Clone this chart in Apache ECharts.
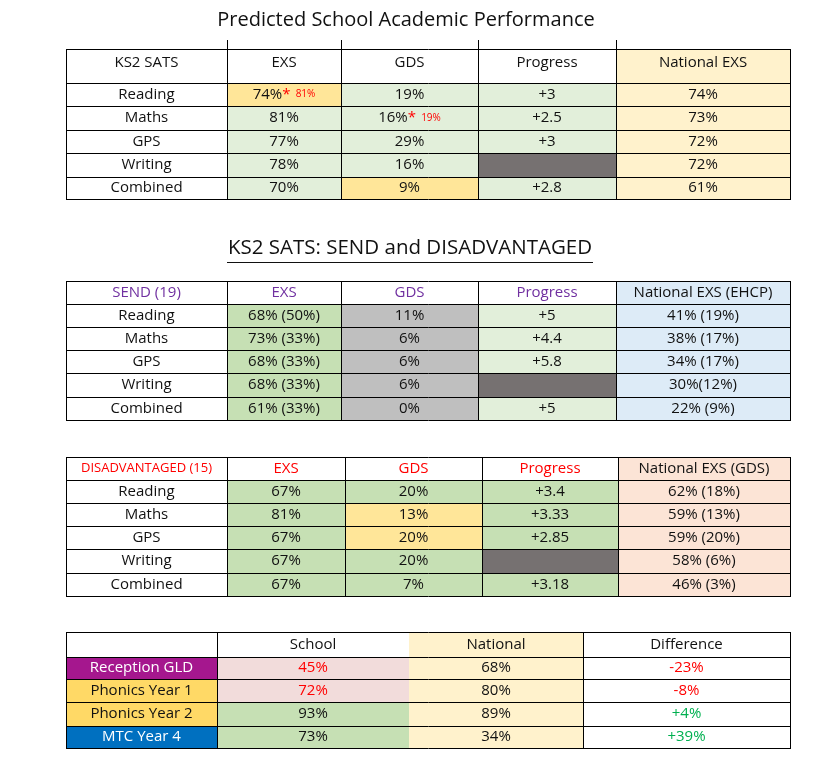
<!DOCTYPE html>
<html>
<head>
<meta charset="utf-8">
<script src="https://cdn.jsdelivr.net/npm/echarts@6/dist/echarts.min.js"></script>
<style>
  html, body { margin: 0; padding: 0; background: #fff; }
  #main { width: 827px; height: 768px; }
</style>
</head>
<body>
<div id="main"></div>
<script>
// ---- data read from the sheet ----
const subjects = ['Reading', 'Maths', 'GPS', 'Writing', 'Combined'];

// KS2 SATS (whole cohort)
const ks2Headers = ['KS2 SATS', 'EXS', 'GDS', 'Progress', 'National EXS'];
const ks2Exs = [74, 81, 77, 78, 70];
const ks2ExsRevised = [81, null, null, null, null];
const ks2Gds = [19, 16, 29, 16, 9];
const ks2GdsRevised = [null, 19, null, null, null];
const ks2Progress = [3, 2.5, 3, null, 2.8];
const ks2National = [74, 73, 72, 72, 61];

// SEND
const sendHeaders = ['SEND (19)', 'EXS', 'GDS', 'Progress', 'National EXS (EHCP)'];
const sendExs = ['68% (50%)', '73% (33%)', '68% (33%)', '68% (33%)', '61% (33%)'];
const sendGds = [11, 6, 6, 6, 0];
const sendProgress = [5, 4.4, 5.8, null, 5];
const sendNational = ['41% (19%)', '38% (17%)', '34% (17%)', '30%(12%)', '22% (9%)'];

// Disadvantaged
const disHeaders = ['DISADVANTAGED (15)', 'EXS', 'GDS', 'Progress', 'National EXS (GDS)'];
const disExs = [67, 81, 67, 67, 67];
const disGds = [20, 13, 20, 20, 7];
const disProgress = [3.4, 3.33, 2.85, null, 3.18];
const disNational = ['62% (18%)', '59% (13%)', '59% (20%)', '58% (6%)', '46% (3%)'];

// Early years / phonics / MTC
const eyHeaders = ['', 'School', 'National', 'Difference'];
const eyMeasures = ['Reception GLD', 'Phonics Year 1', 'Phonics Year 2', 'MTC Year 4'];
const eySchool = [45, 72, 93, 73];
const eyNational = [68, 80, 89, 34];
const eyDifference = [-23, -8, 4, 39];

// ---- styles ----
const FONT = "'Open Sans', sans-serif";
const BODY = 15;
const TEXT = '#111111';
const W = '#ffffff', LG = '#E2EFDA', G = '#C6E0B4', Y = '#FFE699', CREAM = '#FFF2CC',
      DARK = '#767171', GREY = '#BFBFBF', SKY = '#DDEBF7', PEACH = '#FCE4D6',
      PINK = '#F2DCDB', GOLD = '#FFD966', PURPLE = '#A5178E', NAVY = '#0070C0',
      RED = '#FF0000', GREEN = '#00B050', VIOLET = '#7030A0';

const RICH = {
  v: { fontSize: BODY, fontFamily: FONT, fill: TEXT },
  s: { fontSize: BODY, fontFamily: FONT, fill: RED },
  n: { fontSize: 10, fontFamily: FONT, fill: RED }
};

const pct = v => v + '%';
const plus = v => v == null ? '' : '+' + v;
const revised = (v, r) => r == null ? pct(v) : '{v|' + pct(v) + '}{s|*}{n|  ' + pct(r) + '}';
const row5 = c => [c, c, c, c, c];

const tables = [
  {
    box: { left: 66, top: 49, width: 724, height: 150 },
    cols: [0, 161, 275, 412, 550, 724],
    rows: [0, 34, 57, 81, 104, 128, 150],
    headerY: 14,
    tickUp: 9,
    header: ks2Headers,
    headerColors: row5(TEXT),
    body: subjects.map((s, i) => [s, revised(ks2Exs[i], ks2ExsRevised[i]),
      revised(ks2Gds[i], ks2GdsRevised[i]), plus(ks2Progress[i]), pct(ks2National[i])]),
    fills: [
      [W, W, W, W, CREAM],
      [W, Y, LG, LG, CREAM],
      [W, LG, LG, LG, CREAM],
      [W, LG, LG, LG, CREAM],
      [W, LG, LG, DARK, CREAM],
      [W, LG, Y, LG, CREAM]
    ]
  },
  {
    box: { left: 66, top: 281, width: 724, height: 139 },
    cols: [0, 161, 275, 412, 550, 724],
    rows: [0, 23, 46, 69, 92, 116, 139],
    header: sendHeaders,
    headerColors: [VIOLET, VIOLET, VIOLET, VIOLET, TEXT],
    body: subjects.map((s, i) => [s, sendExs[i], pct(sendGds[i]), plus(sendProgress[i]), sendNational[i]]),
    fills: [
      [W, W, W, W, SKY],
      [W, G, GREY, LG, SKY],
      [W, G, GREY, LG, SKY],
      [W, G, GREY, LG, SKY],
      [W, G, GREY, DARK, SKY],
      [W, G, GREY, LG, SKY]
    ]
  },
  {
    box: { left: 66, top: 457, width: 724, height: 139 },
    cols: [0, 161, 279, 416, 552, 724],
    rows: [0, 23, 46, 69, 92, 116, 139],
    header: disHeaders,
    headerColors: [RED, RED, RED, RED, TEXT],
    headerSizes: [13, BODY, BODY, BODY, BODY],
    body: subjects.map((s, i) => [s, pct(disExs[i]), pct(disGds[i]), plus(disProgress[i]), disNational[i]]),
    fills: [
      [W, W, W, W, PEACH],
      [W, G, G, G, PEACH],
      [W, G, Y, G, PEACH],
      [W, G, Y, G, PEACH],
      [W, G, G, DARK, PEACH],
      [W, G, G, G, PEACH]
    ]
  },
  {
    box: { left: 66, top: 632, width: 724, height: 116 },
    cols: [0, 151, 343, 517, 724],
    rows: [0, 25, 47, 70, 94, 116],
    skipCols: [2],
    header: eyHeaders,
    headerColors: [TEXT, TEXT, TEXT, TEXT],
    body: eyMeasures.map((m, i) => [m, pct(eySchool[i]), pct(eyNational[i]),
      (eyDifference[i] > 0 ? '+' : '') + eyDifference[i] + '%']),
    bodyColors: eyMeasures.map((m, i) => [
      i === 0 || i === 3 ? W : TEXT,
      eySchool[i] < eyNational[i] ? RED : TEXT,
      TEXT,
      eyDifference[i] < 0 ? RED : GREEN
    ]),
    fills: [
      [W, W, CREAM, W],
      [PURPLE, PINK, CREAM, W],
      [GOLD, PINK, CREAM, W],
      [GOLD, G, CREAM, W],
      [NAVY, G, CREAM, W]
    ]
  }
];

const grids = [], xAxes = [], yAxes = [], series = [];

tables.forEach((t, ti) => {
  grids.push({ left: t.box.left, top: t.box.top, width: t.box.width, height: t.box.height });
  xAxes.push({ type: 'value', gridIndex: ti, min: 0, max: t.box.width, show: false });
  yAxes.push({ type: 'value', gridIndex: ti, min: 0, max: t.box.height, inverse: true, show: false });

  // cells
  const cells = [];
  [t.header].concat(t.body).forEach((row, r) => {
    row.forEach((text, c) => {
      const head = r === 0;
      cells.push({
        value: [t.cols[c], t.rows[r], t.cols[c + 1], t.rows[r + 1]],
        text: text,
        fill: t.fills[r][c],
        color: head ? t.headerColors[c] : (t.bodyColors ? t.bodyColors[r - 1][c] : TEXT),
        size: head && t.headerSizes ? t.headerSizes[c] : BODY,
        ty: head && t.headerY != null ? t.headerY : null
      });
    });
  });
  series.push({
    type: 'custom',
    coordinateSystem: 'cartesian2d',
    xAxisIndex: ti,
    yAxisIndex: ti,
    silent: true,
    clip: false,
    encode: { x: [0, 2], y: [1, 3] },
    data: cells,
    renderItem: (params, api) => {
      const c = cells[params.dataIndex];
      const a = api.coord([c.value[0], c.value[1]]);
      const b = api.coord([c.value[2], c.value[3]]);
      const cy = c.ty != null ? a[1] + c.ty : (a[1] + b[1]) / 2;
      return {
        type: 'group',
        children: [
          { type: 'rect', shape: { x: a[0], y: a[1], width: b[0] - a[0], height: b[1] - a[1] },
            style: { fill: c.fill } },
          { type: 'text', style: {
              x: (a[0] + b[0]) / 2, y: cy, text: c.text, fill: c.color,
              fontSize: c.size, fontFamily: FONT, align: 'center', verticalAlign: 'middle', rich: RICH } }
        ]
      };
    },
    z: 2
  });

  // grid lines
  const lines = [];
  t.rows.forEach(y => lines.push({ value: [0, y, t.box.width, y] }));
  t.cols.forEach((x, c) => {
    if (t.skipCols && t.skipCols.includes(c)) return;
    const inner = c > 0 && c < t.cols.length - 1;
    lines.push({ value: [x, inner && t.tickUp ? -t.tickUp : 0, x, t.box.height] });
  });
  series.push({
    type: 'custom',
    coordinateSystem: 'cartesian2d',
    xAxisIndex: ti,
    yAxisIndex: ti,
    silent: true,
    clip: false,
    encode: { x: [0, 2], y: [1, 3] },
    data: lines,
    renderItem: (params, api) => {
      const a = api.coord([api.value(0), api.value(1)]);
      const b = api.coord([api.value(2), api.value(3)]);
      const horiz = Math.abs(a[1] - b[1]) < 0.01;
      const shape = horiz
        ? { x1: a[0], y1: Math.round(a[1]) + 0.5, x2: b[0] + 1, y2: Math.round(a[1]) + 0.5 }
        : { x1: Math.round(a[0]) + 0.5, y1: a[1], x2: Math.round(a[0]) + 0.5, y2: b[1] + 1 };
      return { type: 'line', shape: shape, style: { stroke: '#000', lineWidth: 1 } };
    },
    z: 3
  });
});

const chart = echarts.init(document.getElementById('main'));
chart.setOption({
  animation: false,
  backgroundColor: '#fff',
  graphic: [
    { type: 'text', x: 406, y: 20, style: { text: 'Predicted School Academic Performance',
      fontSize: 20, fontFamily: FONT, fill: TEXT, align: 'center', verticalAlign: 'middle' } },
    { type: 'text', x: 410, y: 248, style: { text: 'KS2 SATS: SEND and DISADVANTAGED',
      fontSize: 20.5, fontFamily: FONT, fill: TEXT, align: 'center', verticalAlign: 'middle' } },
    { type: 'line', shape: { x1: 227, y1: 262.5, x2: 593, y2: 262.5 },
      style: { stroke: TEXT, lineWidth: 1 } }
  ],
  grid: grids,
  xAxis: xAxes,
  yAxis: yAxes,
  series: series
});
</script>
</body>
</html>
